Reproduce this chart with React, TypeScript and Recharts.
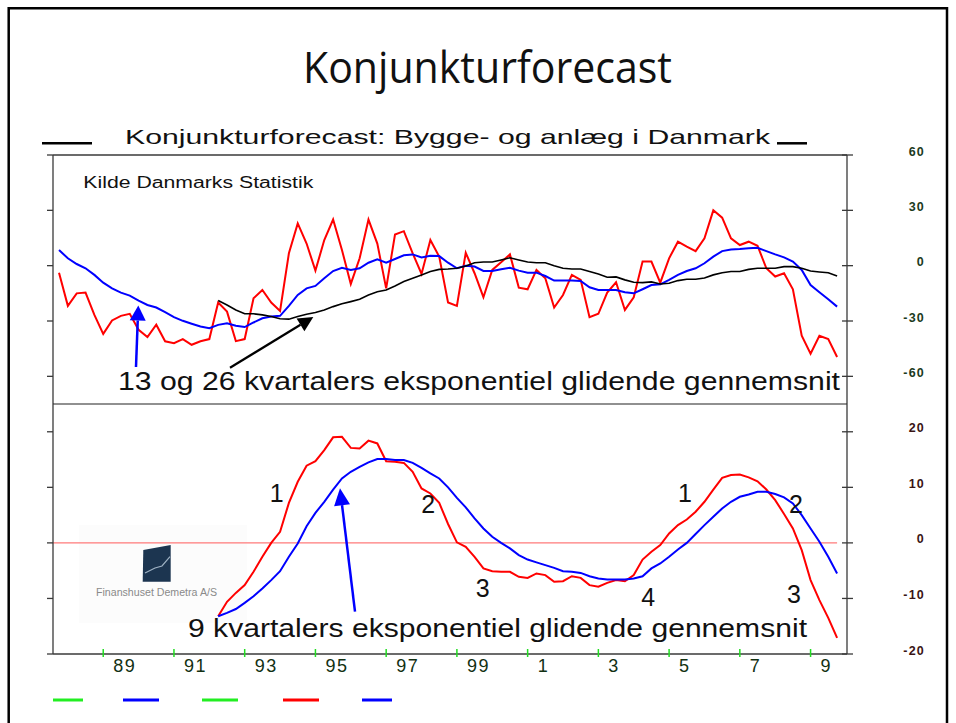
import React from 'react'
import { LineChart, Line, XAxis, YAxis, ReferenceLine } from 'recharts'

// quarterly series, first point 1987 Q4
const START = 1987.75
// the 26-quarter average and the lower panel begin 18 quarters later
const OFFSET = 18

const upperRed = [
  -3.8, -21.8, -15, -14.6, -26.7, -37, -29.7, -27.2, -26.1, -34.8, -38.7, -32, -41, -42, -39.8,
  -42.9, -41, -39.8, -20, -24.9, -40.9, -39.8, -17.7, -13.2, -20, -24.5, 6.7, 22.9, 12, -2.7,
  13.9, 25, 8.5, -9.9, 4, 25, 12, -12.3, 16.9, 18.7, 6.7, -4.5, 13.9, 4.9, -20,
  -21.8, 7, -4.1, -17.1, -2.3, 1.8, 6.1, -11.9, -12.8, -2.3, -6.8, -22.7, -15.9, -5, -7.7,
  -27.9, -26.1, -14.6, -9, -24, -17.1, 2.2, 2.2, -9.2, 4, 13, 10.3, 7.9, 14.8, 30,
  26, 14.8, 11.2, 13, 10.8, -1.4, -5.9, -4.1, -12.8, -38, -47.7, -38, -39.8, -49.5,
]
const upperBlue = [
  8.5, 4, 0.9, -1.4, -5, -9.2, -12.3, -14.6, -16.2, -18.9, -21.3, -22.7, -25.2, -27.9, -29.9,
  -31.5, -33, -33.9, -32.1, -31.2, -32.6, -33.3, -30.8, -28.5, -27.6, -27.2, -21.8, -15.9, -12.3, -11,
  -6.8, -2.9, -1.1, -2.3, -1.4, 1.6, 3.4, 1.6, 3.6, 5.6, 6.1, 4.5, 5.4, 5.2, 1.6,
  -1.4, 0, -0.5, -2.9, -2.9, -2, -1.1, -2.7, -3.8, -3.8, -5.6, -8.1, -8.1, -8.1, -8.3,
  -11.7, -13.2, -13.2, -13.2, -14.4, -15, -12.8, -10.5, -10.1, -7.7, -5, -2.9, -1.4, 1.3, 4.9,
  7.9, 8.8, 9, 9.4, 9.7, 7.9, 6.1, 4.5, 2.2, -2.3, -10.5, -14.4, -18.2, -22.2,
]
const upperBlack = [
  -18.9, -21.3, -24, -26.1, -26.1, -26.7, -27.6, -28.8, -29, -27.6, -26.3, -25.4,
  -24, -22.2, -20.7, -19.5, -18.2, -15.9, -14.1, -13.2, -11, -8.6, -6.8, -5, -3.2, -2, -1.8,
  -1.4, -0.2, 1.6, 2, 2, 3.1, 4.3, 3.1, 2, 1.6, 1.6, 0, -1.4, -1.8, -1.8,
  -3.2, -4.5, -6.3, -6.1, -7.7, -9, -9.2, -8.8, -9.9, -9.5, -8.1, -7.4, -7.4, -6.7, -5,
  -3.8, -3.2, -3.2, -2, -1.4, -1.4, -1.4, -0.5, -0.5, -1.4, -2.9, -3.4, -3.8, -5.6,
]
const lowerRed = [
  -13.2, -10.6, -9, -7.6, -5.2, -2.5, 0, 2, 7.2, 11, 13.9, 14.7, 16.7, 19, 19.1,
  17.1, 17, 18.4, 17.9, 14.7, 14.6, 14.4, 12.8, 9.8, 8.9, 7.2, 3.4, 0.1, -0.7, -2.5,
  -4.6, -5.1, -5.2, -5.2, -6.1, -6.3, -5.5, -5.8, -7, -6.9, -6, -6.3, -7.6, -7.9, -7.2,
  -6.7, -6.9, -5.8, -3, -1.6, -0.4, 1.7, 3.2, 4.2, 5.6, 7.4, 9.6, 11.7, 12.2, 12.3,
  11.8, 11.1, 9.6, 7.7, 5.2, 2.6, -1.3, -6.7, -10.3, -13.5, -17.1,
]
const lowerBlue = [
  -13.2, -12.6, -11.9, -10.8, -9.6, -8.2, -6.7, -5.1, -2.5, -0.1, 3, 5.4, 7.4, 9.6, 11.6,
  12.8, 13.7, 14.5, 15.1, 15.1, 14.9, 14.9, 14.4, 13.5, 12.5, 11.6, 10, 8.1, 6.4, 4.4,
  2.6, 1.1, 0, -1, -2.2, -3, -3.5, -4, -4.5, -5.1, -5.2, -5.4, -6, -6.4, -6.6,
  -6.6, -6.6, -6.4, -6, -4.6, -3.7, -2.5, -1.2, 0, 1.6, 3.2, 4.7, 6.2, 7.4, 8.3,
  8.7, 9.2, 9.2, 8.8, 8.2, 7.1, 5, 2.6, 0.2, -2.5, -5.5,
]

const xTicks = [1989, 1991, 1993, 1995, 1997, 1999, 2001, 2003, 2005, 2007, 2009]
const xTickLabels = ['89', '91', '93', '95', '97', '99', '1', '3', '5', '7', '9']
const upperTicks = [60, 30, 0, -30, -60]
const lowerTicks = [20, 10, 0, -10, -20]

const X_DOMAIN = [1987.58, 2010.03]
const UPPER_DOMAIN = [-75, 60]
const LOWER_DOMAIN = [-20, 25]
const FONT = '"Liberation Sans", Arial, sans-serif'
const AXIS = '#3a3a3a'

const upperData = upperRed.map((v, i) => ({
  t: START + i / 4,
  red: v,
  blue: upperBlue[i],
  black: i >= OFFSET ? upperBlack[i - OFFSET] : null,
}))
const lowerData = lowerRed.map((v, j) => ({
  t: START + (j + OFFSET) / 4,
  red: v,
  blue: lowerBlue[j],
}))
const lastT = lowerData[lowerData.length - 1].t

function RightTick(props: any) {
  const { x, y, payload, color } = props
  return (
    <g>
      <line x1={x - 5} x2={x + 6} y1={y} y2={y} stroke={AXIS} strokeWidth={1.3} />
      <text
        x={x + 78}
        y={y + 0.5}
        textAnchor="end"
        fontSize={12.5}
        fontWeight="bold"
        letterSpacing={1.2}
        fill={color}
        fontFamily={FONT}
      >
        {payload.value}
      </text>
    </g>
  )
}

function XTick(props: any) {
  const { x, y, payload } = props
  const label = xTickLabels[xTicks.indexOf(payload.value)]
  return (
    <g>
      <line x1={x} x2={x} y1={y - 5} y2={y + 3} stroke="#22dd22" strokeWidth={1.5} />
      <text x={x + 10} y={y + 18} fontSize={18} letterSpacing={1.5} fill="#123012" fontFamily={FONT}>
        {label}
      </text>
    </g>
  )
}

function Arrow({ x1, y1, x2, y2, color, head = 15, half = 7.5, width = 2.5 }: any) {
  const dx = x2 - x1
  const dy = y2 - y1
  const len = Math.hypot(dx, dy)
  const ux = dx / len
  const uy = dy / len
  const bx = x2 - ux * head
  const by = y2 - uy * head
  const px = -uy
  const py = ux
  return (
    <g>
      <line x1={x1} y1={y1} x2={bx} y2={by} stroke={color} strokeWidth={width} />
      <polygon
        points={`${x2},${y2} ${bx + px * half},${by + py * half} ${bx - px * half},${by - py * half}`}
        fill={color}
      />
    </g>
  )
}

const emptyTick = () => <g />

function UpperPanel() {
  return (
    <LineChart
      width={956}
      height={420}
      data={upperData}
      margin={{ top: 155, right: 103, bottom: 16, left: 47 }}
      style={{ position: 'absolute', left: 0, top: 0 }}
    >
      <XAxis dataKey="t" type="number" domain={X_DOMAIN} allowDataOverflow hide />
      <YAxis
        yAxisId="left"
        orientation="left"
        width={6}
        domain={UPPER_DOMAIN}
        allowDataOverflow
        ticks={upperTicks}
        interval={0}
        stroke={AXIS}
        strokeWidth={1.3}
        tickSize={6}
        tick={emptyTick}
      />
      <YAxis
        yAxisId="right"
        orientation="right"
        width={6}
        domain={UPPER_DOMAIN}
        allowDataOverflow
        ticks={upperTicks}
        interval={0}
        stroke={AXIS}
        strokeWidth={1.3}
        tickSize={0}
        tickMargin={0}
        tickLine={false}
        tick={(p: any) => <RightTick {...p} color="#1c3a1c" />}
      />
      <ReferenceLine yAxisId="left" y={60} stroke={AXIS} strokeWidth={1.3} />
      <Line yAxisId="right" dataKey="red" stroke="#ff0000" strokeWidth={2} dot={false} isAnimationActive={false} />
      <Line yAxisId="left" dataKey="blue" stroke="#0000ff" strokeWidth={2} dot={false} isAnimationActive={false} />
      <Line yAxisId="left" dataKey="black" stroke="#000000" strokeWidth={1.6} dot={false} isAnimationActive={false} />
    </LineChart>
  )
}

function LowerPanel() {
  return (
    <LineChart
      width={956}
      height={700}
      data={lowerData}
      margin={{ top: 404, right: 103, bottom: 16, left: 47 }}
      style={{ position: 'absolute', left: 0, top: 0 }}
    >
      <XAxis
        dataKey="t"
        type="number"
        domain={X_DOMAIN}
        allowDataOverflow
        ticks={xTicks}
        interval={0}
        height={30}
        stroke={AXIS}
        strokeWidth={1.5}
        tickLine={false}
        tickSize={0}
        tickMargin={0}
        tick={(p: any) => <XTick {...p} />}
      />
      <YAxis
        yAxisId="left"
        orientation="left"
        width={6}
        domain={LOWER_DOMAIN}
        allowDataOverflow
        ticks={lowerTicks}
        interval={0}
        stroke={AXIS}
        strokeWidth={1.3}
        tickSize={6}
        tick={emptyTick}
      />
      <YAxis
        yAxisId="right"
        orientation="right"
        width={6}
        domain={LOWER_DOMAIN}
        allowDataOverflow
        ticks={lowerTicks}
        interval={0}
        stroke={AXIS}
        strokeWidth={1.3}
        tickSize={0}
        tickMargin={0}
        tickLine={false}
        tick={(p: any) => <RightTick {...p} color="#3a1414" />}
      />
      <ReferenceLine yAxisId="left" y={25} stroke="#222" strokeWidth={1.2} />
      <ReferenceLine
        yAxisId="left"
        segment={[
          { x: X_DOMAIN[0], y: 0 },
          { x: lastT, y: 0 },
        ]}
        stroke="#ff7a7a"
        strokeWidth={1.2}
      />
      <Line yAxisId="right" dataKey="red" stroke="#ff0000" strokeWidth={2} dot={false} isAnimationActive={false} />
      <Line yAxisId="left" dataKey="blue" stroke="#0000ff" strokeWidth={2} dot={false} isAnimationActive={false} />
    </LineChart>
  )
}

// faint company logo sitting behind the lower panel
function Backdrop() {
  return (
    <svg width={956} height={723} style={{ position: 'absolute', left: 0, top: 0 }} fontFamily={FONT}>
      <rect x={79} y={525} width={168} height={98} fill="#fcfcfc" />
      <polygon points="143.3,550 170.7,545 170.7,581.7 142.7,581.7" fill="#1c3550" />
      <polyline points="145,573 155,568 162,566 170,556.7" fill="none" stroke="#9fb2c4" strokeWidth={1.2} />
      <text x={96} y={596} fontSize={10} textLength={121} lengthAdjust="spacingAndGlyphs" fill="#8a8a8a">
        Finanshuset Demetra A/S
      </text>
    </svg>
  )
}

function Overlay() {
  return (
    <svg
      width={956}
      height={723}
      style={{ position: 'absolute', left: 0, top: 0, pointerEvents: 'none' }}
      fontFamily={FONT}
    >
      <path d="M8.7,730 L8.7,8.2 L947,8.2 L947,730" fill="none" stroke="#000" strokeWidth={2.5} />
      <text
        x={303}
        y={83}
        fontSize={44}
        fontFamily='"Open Sans", "Noto Sans", sans-serif'
        textLength={369}
        lengthAdjust="spacingAndGlyphs"
        fill="#111"
      >
        Konjunkturforecast
      </text>

      <line x1={42} x2={92} y1={143.3} y2={143.3} stroke="#000" strokeWidth={2.5} />
      <line x1={777} x2={807} y1={143.3} y2={143.3} stroke="#000" strokeWidth={2.5} />
      <text x={125} y={143.5} fontSize={21} textLength={645} lengthAdjust="spacingAndGlyphs" fill="#111">
        Konjunkturforecast: Bygge- og anlæg i Danmark
      </text>
      <text x={83.3} y={188.3} fontSize={16} textLength={230} lengthAdjust="spacingAndGlyphs" fill="#111">
        Kilde Danmarks Statistik
      </text>

      <Arrow x1={136} y1={367} x2={138.3} y2={305.5} color="#0000ff" head={15} half={8} />
      <Arrow x1={230} y1={367.7} x2={313.3} y2={317} color="#000" head={15} half={7.5} width={2.2} />
      <text x={118} y={390} fontSize={25} textLength={722} lengthAdjust="spacingAndGlyphs" fill="#111">
        13 og 26 kvartalers eksponentiel glidende gennemsnit
      </text>

      <Arrow x1={355} y1={611.7} x2={340} y2={488.3} color="#0000ff" head={17} half={8} />
      <text x={188} y={637} fontSize={26} textLength={619} lengthAdjust="spacingAndGlyphs" fill="#111">
        9 kvartalers eksponentiel glidende gennemsnit
      </text>

      <g fontSize={25} fill="#111" textAnchor="middle">
        <text x={276.7} y={502}>1</text>
        <text x={428.3} y={513}>2</text>
        <text x={482.7} y={596.7}>3</text>
        <text x={648.3} y={605.7}>4</text>
        <text x={685} y={502}>1</text>
        <text x={796} y={513}>2</text>
        <text x={794} y={603}>3</text>
      </g>

      <g strokeWidth={3}>
        <line x1={53} x2={83} y1={700} y2={700} stroke="#22ee22" />
        <line x1={123} x2={159} y1={700} y2={700} stroke="#0000ff" />
        <line x1={202} x2={238} y1={700} y2={700} stroke="#22ee22" />
        <line x1={283} x2={319} y1={700} y2={700} stroke="#ff0000" />
        <line x1={362} x2={392} y1={700} y2={700} stroke="#0000ff" />
      </g>
    </svg>
  )
}

export default function App() {
  return (
    <div
      style={{
        position: 'absolute',
        left: 0,
        top: 0,
        width: 956,
        height: 723,
        overflow: 'hidden',
        background: '#fff',
      }}
    >
      <Backdrop />
      <UpperPanel />
      <LowerPanel />
      <Overlay />
    </div>
  )
}
